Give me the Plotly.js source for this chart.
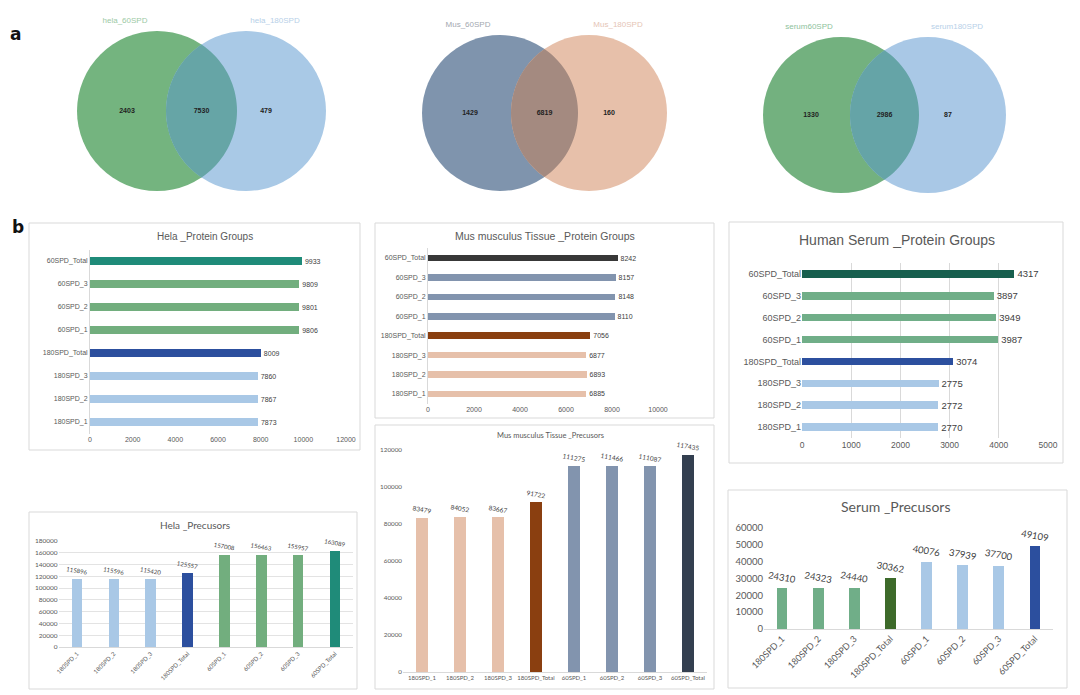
<!DOCTYPE html>
<html><head><meta charset="utf-8">
<script src="https://cdn.plot.ly/plotly-3.0.1.min.js"></script>
<style>html,body{margin:0;padding:0;background:#fff;}#chart{width:1080px;height:695px;}</style>
</head><body><div id="chart"></div>
<script>
// ---------------- DATA ----------------
const categories = ['180SPD_1','180SPD_2','180SPD_3','180SPD_Total','60SPD_1','60SPD_2','60SPD_3','60SPD_Total'];
const helaProteinGroups  = [7873, 7867, 7860, 8009, 9806, 9801, 9809, 9933];
const musProteinGroups   = [6885, 6893, 6877, 7056, 8110, 8148, 8157, 8242];
const serumProteinGroups = [2770, 2772, 2775, 3074, 3987, 3949, 3897, 4317];
const helaPrecursors  = [115896, 115596, 115420, 125557, 157008, 156463, 155957, 163089];
const musPrecursors   = [83479, 84052, 83667, 91722, 111275, 111466, 111087, 117435];
const serumPrecursors = [24310, 24323, 24440, 30362, 40076, 37939, 37700, 49109];

const vennLabels = [['hela_60SPD','hela_180SPD'],['Mus_60SPD','Mus_180SPD'],['serum60SPD','serum180SPD']];
const vennCounts = [[2403, 7530, 479],[1429, 6819, 160],[1330, 2986, 87]];

const panelTitles = ['Hela _Protein Groups','Mus musculus Tissue _Protein Groups','Human Serum _Protein Groups',
                     'Hela _Precusors','Mus musculus Tissue _Precusors','Serum _Precusors'];

// ---------------- STYLE ----------------
const W = 1080, H = 695;
const px = (a,b) => [a/W, b/W];
const py = (top,bot) => [1-bot/H, 1-top/H];
const LB='#a9c8e6', DB='#2c4f9e', GR='#72ae7e', TEAL='#1f8b79';
const helaColors = [LB,LB,LB,DB,GR,GR,GR,TEAL];
const SAL='#e6c0aa', BR='#8a3f10', SL='#8294ae';
const musPGColors = [SAL,SAL,SAL,BR,SL,SL,SL,'#383838'];
const musPrecColors = [SAL,SAL,SAL,BR,SL,SL,SL,'#333f50'];
const SG='#70ae88';
const serumPGColors = [LB,LB,LB,DB,SG,SG,SG,'#175f4e'];
const serumPrecColors = [SG,SG,SG,'#3d6a2a',LB,LB,LB,DB];
const TXT='#595959', VAL='#404040';
const ARIAL='Liberation Sans, Arial, sans-serif';
const CAL='Lato, Open Sans, sans-serif';

const traces = [];
function hbar(vals, colors, xa, ya, fs){
  traces.push({type:'bar', orientation:'h', y:categories, x:vals, xaxis:xa, yaxis:ya,
    marker:{color:colors}, width:0.34, text:vals, textposition:'outside', cliponaxis:false,
    constraintext:'none', textfont:{family:ARIAL,size:fs,color:VAL}, hoverinfo:'skip'});
}
function vbar(vals, colors, xa, ya, fs, fam, w){
  traces.push({type:'bar', x:categories, y:vals, xaxis:xa, yaxis:ya,
    marker:{color:colors}, width:w, text:vals, textposition:'outside', textangle:10, cliponaxis:false,
    constraintext:'none', textfont:{family:fam,size:fs,color:VAL}, hoverinfo:'skip'});
}
hbar(helaProteinGroups, helaColors, 'x', 'y', 7);
hbar(musProteinGroups, musPGColors, 'x2', 'y2', 7);
hbar(serumProteinGroups, serumPGColors, 'x3', 'y3', 9.5);
vbar(helaPrecursors, helaColors, 'x4', 'y4', 6, CAL, 0.29);
vbar(musPrecursors, musPrecColors, 'x5', 'y5', 6.5, CAL, 0.31);
vbar(serumPrecursors, serumPrecColors, 'x6', 'y6', 9.5, CAL, 0.3);

// ---------------- VENN (geometry in pixel units on a hidden axis) ----------------
const vennGeom = [{c1:157,c2:246,cy:111,r:80,col:['#74b47f','#a9c9e6','#66a5a6'],lc:['#9cc9a5','#b7d0e8']},
                  {c1:500,c2:589,cy:113,r:78,col:['#7f94ad','#e7c0aa','#a48a80'],lc:['#a3a8b0','#e5c4b5']},
                  {c1:841,c2:928,cy:115,r:78,col:['#73b17f','#a9c8e6','#65a4a7'],lc:['#8ec29c','#b7d0e8']}];
const shapes = [];
function lensPath(g){
  const d = g.c2-g.c1, t0 = Math.acos((d/2)/g.r), n=40; let p='';
  for(let i=0;i<=n;i++){const t=-t0+2*t0*i/n; const x=g.c1+g.r*Math.cos(t), y=g.cy+g.r*Math.sin(t); p+=(i?'L':'M')+x.toFixed(2)+','+y.toFixed(2);}
  for(let i=0;i<=n;i++){const t=Math.PI-t0+2*t0*i/n; const x=g.c2+g.r*Math.cos(t), y=g.cy-g.r*Math.sin(t); p+='L'+x.toFixed(2)+','+y.toFixed(2);}
  return p+'Z';
}
const vtx=[], vty=[], vtt=[], ltx=[], lty=[], ltt=[], ltc=[];
vennGeom.forEach((g,i)=>{
  shapes.push({type:'circle',xref:'x7',yref:'y7',x0:g.c1-g.r,x1:g.c1+g.r,y0:g.cy-g.r,y1:g.cy+g.r,fillcolor:g.col[0],line:{width:0},layer:'below'});
  shapes.push({type:'circle',xref:'x7',yref:'y7',x0:g.c2-g.r,x1:g.c2+g.r,y0:g.cy-g.r,y1:g.cy+g.r,fillcolor:g.col[1],line:{width:0},layer:'below'});
  shapes.push({type:'path',xref:'x7',yref:'y7',path:lensPath(g),fillcolor:g.col[2],line:{width:0},layer:'below'});
  vtx.push(g.c1-30,(g.c1+g.c2)/2,g.c2+20); vty.push(g.cy,g.cy,g.cy); vtt.push(...vennCounts[i]);
  ltx.push(g.c1-32,g.c2+29); lty.push(g.cy-g.r-10,g.cy-g.r-10); ltt.push(...vennLabels[i]); ltc.push(...g.lc);
});
traces.push({type:'scatter',mode:'text',x:vtx,y:vty,text:vtt.map(v=>'<b>'+v+'</b>'),xaxis:'x7',yaxis:'y7',
  textfont:{family:ARIAL,size:7,color:'#222'},hoverinfo:'skip'});
traces.push({type:'scatter',mode:'text',x:ltx,y:lty,text:ltt,xaxis:'x7',yaxis:'y7',
  textfont:{family:ARIAL,size:8,color:ltc},hoverinfo:'skip'});

// panel boxes
[[29,223,360,450],[375,223,714,418],[729,222,1063,463],[29,512,357,689],[375,425,714,689],[728,490,1067,688]].forEach(b=>{
  shapes.push({type:'rect',xref:'paper',yref:'paper',x0:b[0]/W,x1:b[2]/W,y0:1-b[3]/H,y1:1-b[1]/H,line:{color:'#d9d9d9',width:1},fillcolor:'rgba(0,0,0,0)',layer:'below'});
});

const titlePos = [[205,236,10,ARIAL],[545,236,10.5,ARIAL],[897,240,14,ARIAL],[195,525,10,CAL],[550,435,7.5,CAL],[895,506,14,CAL]];
const annotations = panelTitles.map((t,i)=>({xref:'paper',yref:'paper',x:titlePos[i][0]/W,y:1-titlePos[i][1]/H,text:t,showarrow:false,
  xanchor:'center',yanchor:'middle',font:{family:titlePos[i][3],size:titlePos[i][2],color:TXT}}));
annotations.push({xref:'paper',yref:'paper',x:8/W,y:1-22/H,text:'<b>a</b>',showarrow:false,font:{family:'DejaVu Sans, sans-serif',size:17,color:'#111'}});
annotations.push({xref:'paper',yref:'paper',x:10/W,y:1-215/H,text:'<b>b</b>',showarrow:false,font:{family:'DejaVu Sans, sans-serif',size:17,color:'#111'}});

const tf = (s,f)=>({family:f||ARIAL,size:s,color:TXT});
const catY = (dom,s,line)=>({domain:dom,type:'category',categoryorder:'array',categoryarray:categories,range:[-0.5,7.5],
  tickfont:tf(s),showgrid:false,zeroline:false,showline:line,linecolor:'#d9d9d9',ticks:'',fixedrange:true});
const layout = {
  width:W,height:H,margin:{l:0,r:0,t:0,b:0},paper_bgcolor:'#fff',plot_bgcolor:'rgba(0,0,0,0)',showlegend:false,bargap:0,
  xaxis:{domain:px(90,346),anchor:'y',range:[0,12000],dtick:2000,tickformat:'d',tickfont:tf(7),showgrid:false,zeroline:false,ticks:''},
  yaxis:Object.assign(catY(py(249.5,433.5),7,true),{anchor:'x'}),
  xaxis2:{domain:px(428,658),anchor:'y2',range:[0,10000],dtick:2000,tickformat:'d',tickfont:tf(7),showgrid:false,zeroline:false,ticks:''},
  yaxis2:Object.assign(catY(py(248.3,403.7),7,true),{anchor:'x2'}),
  xaxis3:{domain:px(802,1048),anchor:'y3',range:[0,5000],dtick:1000,tickformat:'d',tickfont:tf(8.5),showgrid:true,gridcolor:'#d9d9d9',zeroline:false,ticks:''},
  yaxis3:Object.assign(catY(py(263,438),9,false),{anchor:'x3'}),
  xaxis4:{domain:px(58.6,353.4),anchor:'y4',type:'category',tickangle:-45,tickfont:tf(6,CAL),showline:true,linecolor:'#d9d9d9',ticks:''},
  yaxis4:{domain:py(541,647),anchor:'x4',range:[0,180000],dtick:20000,tickformat:'d',tickfont:tf(6.5,CAL),showgrid:true,gridcolor:'#e3e3e3',zeroline:false,ticks:''},
  xaxis5:{domain:px(403,707),anchor:'y5',type:'category',tickangle:0,tickfont:tf(6,CAL),showline:true,linecolor:'#d9d9d9',ticks:''},
  yaxis5:{domain:py(450,672),anchor:'x5',range:[0,120000],dtick:20000,tickformat:'d',tickfont:tf(6.3,CAL),showgrid:false,zeroline:false,ticks:''},
  xaxis6:{domain:px(764,1053),anchor:'y6',type:'category',tickangle:-45,tickfont:tf(9,CAL),showline:true,linecolor:'#d9d9d9',ticks:''},
  yaxis6:{domain:py(528,629),anchor:'x6',range:[0,60000],dtick:10000,tickformat:'d',tickfont:tf(9.5,CAL),showgrid:false,zeroline:false,ticks:''},
  xaxis7:{domain:[0,1],range:[0,W],visible:false,fixedrange:true},
  yaxis7:{domain:[0,1],range:[H,0],visible:false,fixedrange:true,anchor:'x7'},
  shapes:shapes, annotations:annotations
};
Plotly.newPlot('chart', traces, layout, {staticPlot:true,displayModeBar:false});
</script></body></html>
